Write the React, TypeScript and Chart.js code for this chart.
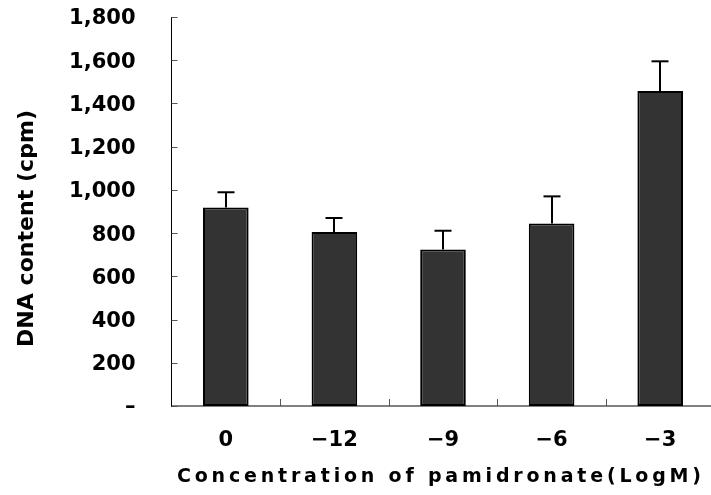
import React, { useEffect, useRef } from "react";
import { Chart, registerables } from "chart.js";

Chart.register(...registerables);

const categories = ["0", "\u221212", "\u22129", "\u22126", "\u22123"];
const values = [919, 805, 724, 844, 1458];
const errors = [70, 65, 87, 126, 137];
const yTickLabels = ["\u2013", "200", "400", "600", "800", "1,000", "1,200", "1,400", "1,600", "1,800"];
const xTitle = "Concentration of pamidronate(LogM)";
const yTitle = "DNA content (cpm)";

const FONT = "'DejaVu Sans', sans-serif";

function line(ctx: CanvasRenderingContext2D, x1: number, y1: number, x2: number, y2: number) {
  ctx.beginPath();
  ctx.moveTo(x1, y1);
  ctx.lineTo(x2, y2);
  ctx.stroke();
}

function spacedText(ctx: CanvasRenderingContext2D, text: string, x: number, y: number, target: number) {
  (ctx as any).letterSpacing = "0px";
  const w = ctx.measureText(text).width;
  const sp = (target - w) / (text.length - 1);
  (ctx as any).letterSpacing = sp + "px";
  ctx.textAlign = "left";
  ctx.fillText(text, x, y);
  (ctx as any).letterSpacing = "0px";
}

const overlay = {
  id: "overlay",
  afterDatasetsDraw(chart: any) {
    const { ctx, chartArea, scales } = chart;
    const x = scales.x;
    const y = scales.y;
    ctx.save();
    // error bars
    ctx.strokeStyle = "#000";
    ctx.lineWidth = 2;
    values.forEach((v, i) => {
      const px = Math.round(x.getPixelForValue(i));
      const top = y.getPixelForValue(v);
      const hi = y.getPixelForValue(v + errors[i]);
      line(ctx, px, top, px, hi);
      line(ctx, px - 8.5, hi, px + 8.5, hi);
    });
    // y ticks (inside)
    ctx.lineWidth = 1;
    ctx.strokeStyle = "#555";
    y.ticks.forEach((t: any) => {
      const py = Math.round(y.getPixelForValue(t.value)) + 0.5;
      line(ctx, chartArea.left, py, chartArea.left + 6, py);
    });
    // x ticks at category boundaries (inside)
    for (let i = 0; i < categories.length - 1; i++) {
      const px = Math.round((x.getPixelForValue(i) + x.getPixelForValue(i + 1)) / 2) + 0.5;
      line(ctx, px, chartArea.bottom - 7, px, chartArea.bottom);
    }
    // titles
    ctx.fillStyle = "#000";
    ctx.textBaseline = "alphabetic";
    ctx.font = "bold 19px " + FONT;
    spacedText(ctx, xTitle, 177, 482, 524);
    ctx.translate(33, 347);
    ctx.rotate(-Math.PI / 2);
    ctx.font = "bold 22px " + FONT;
    spacedText(ctx, yTitle, 0, 0, 237);
    ctx.restore();
  },
};

export default function App() {
  const ref = useRef<HTMLCanvasElement>(null);
  useEffect(() => {
    const canvas = ref.current;
    if (!canvas) return;
    const chart = new Chart(canvas, {
      type: "bar",
      data: {
        labels: categories,
        datasets: [
          {
            data: values,
            backgroundColor: "#333333",
            borderColor: "#000000",
            borderWidth: 2,
            borderSkipped: false,
            categoryPercentage: 1,
            barPercentage: 0.42,
          },
        ],
      },
      options: {
        responsive: false,
        animation: false,
        devicePixelRatio: 1,
        layout: { padding: { left: 0, top: 17, right: 1.5, bottom: 0 } },
        plugins: { legend: { display: false }, tooltip: { enabled: false }, title: { display: false } },
        scales: {
          x: {
            type: "category",
            offset: true,
            grid: { display: false, drawTicks: false },
            border: { display: true, color: "#808080", width: 2 },
            ticks: {
              color: "#000",
              font: { family: FONT, size: 21, weight: "bold" },
              padding: 22,
              maxRotation: 0,
              autoSkip: false,
            },
            afterFit: (s: any) => {
              s.height = 89;
              s.paddingLeft = 0;
              s.paddingRight = 0;
            },
          },
          y: {
            min: 0,
            max: 1800,
            grid: { display: false, drawTicks: false },
            border: { display: true, color: "#000", width: 1 },
            ticks: {
              stepSize: 200,
              color: "#000",
              font: { family: FONT, size: 21, weight: "bold" },
              padding: 36,
              labelOffset: 2,
              callback: (_v: any, i: number) => yTickLabels[i],
            },
            afterFit: (s: any) => {
              s.width = 171.5;
              s.paddingTop = 0;
              s.paddingBottom = 0;
            },
          },
        },
      },
      plugins: [overlay],
    });
    return () => chart.destroy();
  }, []);
  return (
    <div style={{ position: "absolute", left: 0, top: 0, width: 711, height: 495, overflow: "hidden", background: "#fff" }}>
      <canvas ref={ref} width={716} height={495} style={{ display: "block" }} />
    </div>
  );
}
